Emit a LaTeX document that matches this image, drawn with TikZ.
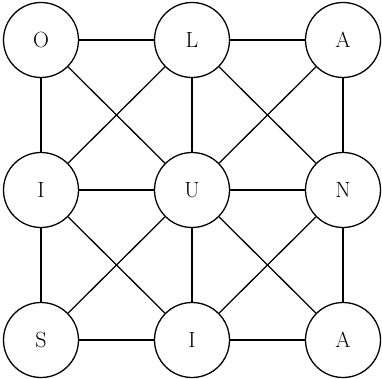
\documentclass[tikz,border=0pt]{standalone}
\begin{document}
\begin{tikzpicture}[x=1pt,y=-1pt,
  vtx/.style={draw,circle,line width=1.3pt,minimum size=75pt,inner sep=0pt,font=\fontsize{22}{26}\selectfont},
  edge/.style={line width=1.3pt}]
\useasboundingbox (0,0) rectangle (382,379);
\node[vtx] (o) at (41,40) {O};
\node[vtx] (l) at (192,40) {L};
\node[vtx] (a) at (343,40) {A};
\node[vtx] (i1) at (41,190) {I};
\node[vtx] (u) at (192,190) {U};
\node[vtx] (n) at (343,190) {N};
\node[vtx] (s) at (41,340) {S};
\node[vtx] (i2) at (192,340) {I};
\node[vtx] (a2) at (343,340) {A};
\foreach \p/\q in {o/l,l/a,i1/u,u/n,s/i2,i2/a2,o/i1,i1/s,l/u,u/i2,a/n,n/a2,o/u,l/i1,l/n,a/u,i1/i2,u/s,u/a2,n/i2}
  \draw[edge] (\p) -- (\q);
\end{tikzpicture}
\end{document}
